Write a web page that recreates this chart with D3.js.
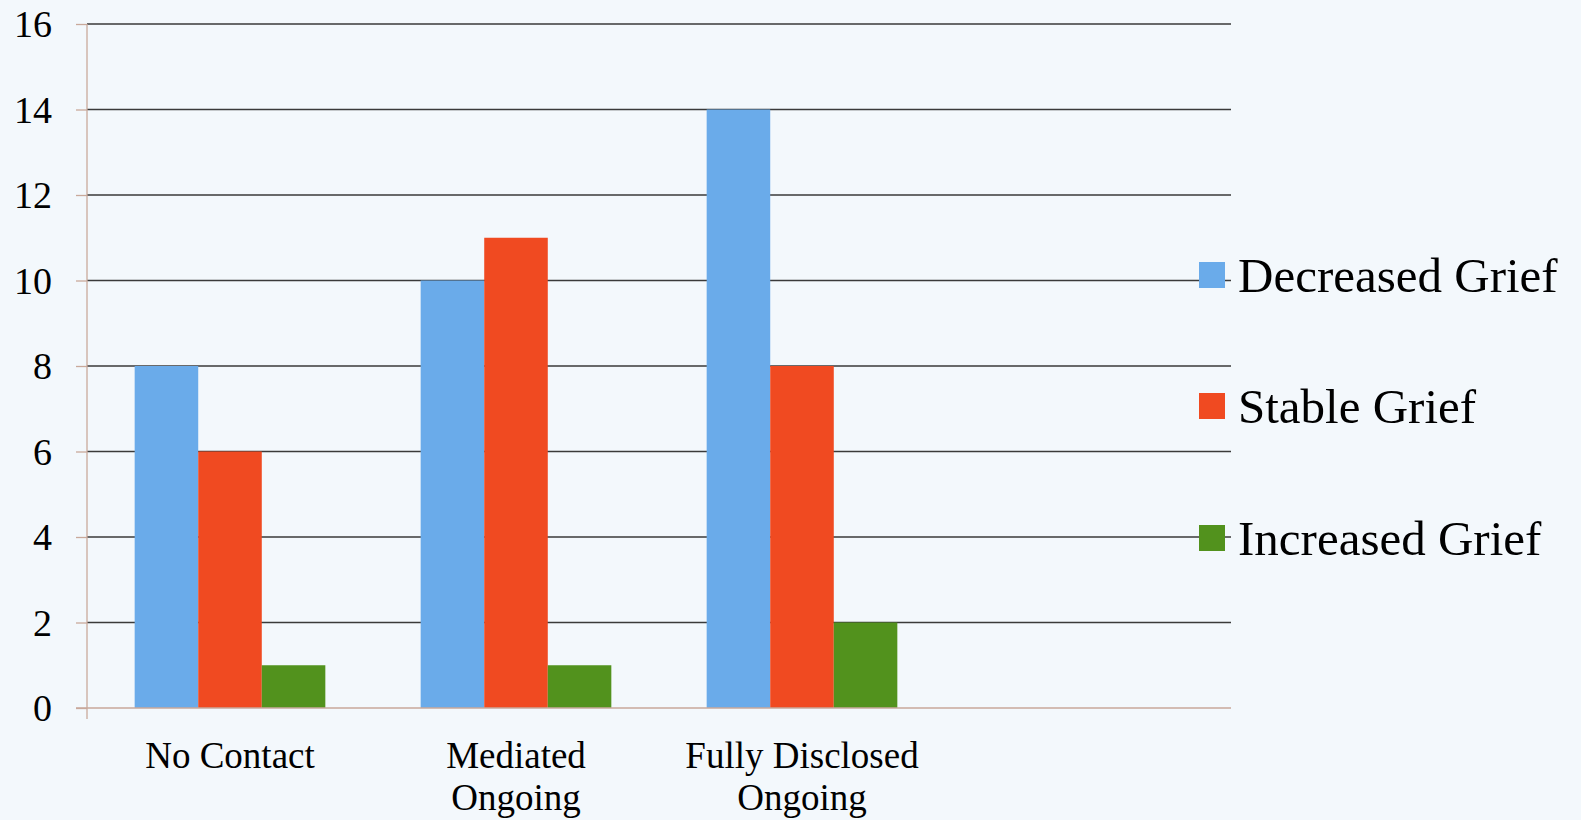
<!DOCTYPE html>
<html>
<head>
<meta charset="utf-8">
<script src="https://cdn.jsdelivr.net/npm/d3@7"></script>
<style>
  html, body { margin: 0; padding: 0; background: #f3f8fc; }
  svg { display: block; }
  text { font-family: "Liberation Serif", "DejaVu Serif", serif; fill: #000; }
</style>
</head>
<body>
<svg width="1581" height="820"></svg>
<script>
// data
const categories = ["No Contact", "Mediated Ongoing", "Fully Disclosed Ongoing", ""];
const categoryLines = [["No Contact"], ["Mediated", "Ongoing"], ["Fully Disclosed", "Ongoing"], [""]];
const seriesNames = ["Decreased Grief", "Stable Grief", "Increased Grief"];
const decreased = [8, 10, 14, null];
const stable = [6, 11, 8, null];
const increased = [1, 1, 2, null];
const yTicks = [0, 2, 4, 6, 8, 10, 12, 14, 16];
const colors = ["#6aabea", "#f04a21", "#52921d"];

const seriesValues = [decreased, stable, increased];

let svg = d3.select("svg");
let mLeft = 87, mRight = 1231, mTop = 24, mBottom = 708;

var x = d3.scaleBand().domain(categories.map((c, i) => i)).range([mLeft, mRight]).paddingInner(0).paddingOuter(0),
    xs = d3.scaleBand().domain(seriesNames).range([0, x.bandwidth()]).paddingInner(0).paddingOuter(0.75),
    y = d3.scaleLinear().domain([0, 16]).range([mBottom, mTop]);

// gridlines
svg.append("g")
    .selectAll("line")
    .data(yTicks.filter(d => d > 0))
    .join("line")
    .attr("x1", mLeft).attr("x2", mRight)
    .attr("y1", d => y(d)).attr("y2", d => y(d))
    .attr("stroke", "#3a3a3a")
    .attr("stroke-width", 1.3);

// bars
seriesValues.forEach((vals, s) => {
    svg.append("g")
        .attr("fill", colors[s])
        .selectAll("rect")
        .data(vals.map((v, i) => ({ i, v })).filter(d => d.v != null))
        .join("rect")
        .attr("x", d => x(d.i) + xs(seriesNames[s]))
        .attr("y", d => y(d.v))
        .attr("width", xs.bandwidth())
        .attr("height", d => y(0) - y(d.v));
});

// y axis
var yAxis = d3.axisLeft(y).tickValues(yTicks).tickSize(11).tickPadding(24);
var gy = svg.append("g")
    .attr("transform", "translate(" + mLeft + ",0)")
    .call(yAxis);
gy.select(".domain").remove();
gy.selectAll(".tick line").attr("stroke", "#c9a99b").attr("stroke-width", 1.3);
gy.selectAll(".tick text").attr("font-size", 38).attr("font-family", null).attr("dy", "0.34em");
svg.append("line")
    .attr("x1", mLeft).attr("x2", mLeft)
    .attr("y1", mTop).attr("y2", mBottom + 11)
    .attr("stroke", "#c9a99b").attr("stroke-width", 1.3);

// x baseline
svg.append("line")
    .attr("x1", mLeft - 11).attr("x2", mRight)
    .attr("y1", y(0)).attr("y2", y(0))
    .attr("stroke", "#c9a99b").attr("stroke-width", 1.3);

// category labels
svg.append("g")
    .selectAll("text")
    .data(categoryLines)
    .join("text")
    .attr("text-anchor", "middle")
    .attr("font-size", 37)
    .attr("x", (d, i) => x(i) + x.bandwidth() / 2)
    .attr("y", 768)
    .selectAll("tspan")
    .data(d => d)
    .join("tspan")
    .attr("x", function() { return d3.select(this.parentNode).attr("x"); })
    .attr("dy", (d, j) => j === 0 ? 0 : 42)
    .text(d => d);

// legend
var legendY = [275, 406, 538];
var legend = svg.append("g")
    .selectAll("g")
    .data(seriesNames)
    .join("g")
    .attr("transform", (d, i) => "translate(1199," + legendY[i] + ")");
legend.append("rect")
    .attr("x", 0).attr("y", -13)
    .attr("width", 26).attr("height", 26)
    .attr("fill", (d, i) => colors[i]);
legend.append("text")
    .attr("x", 39).attr("dy", "0.35em")
    .attr("font-size", 49)
    .text(d => d);
</script>
</body>
</html>
